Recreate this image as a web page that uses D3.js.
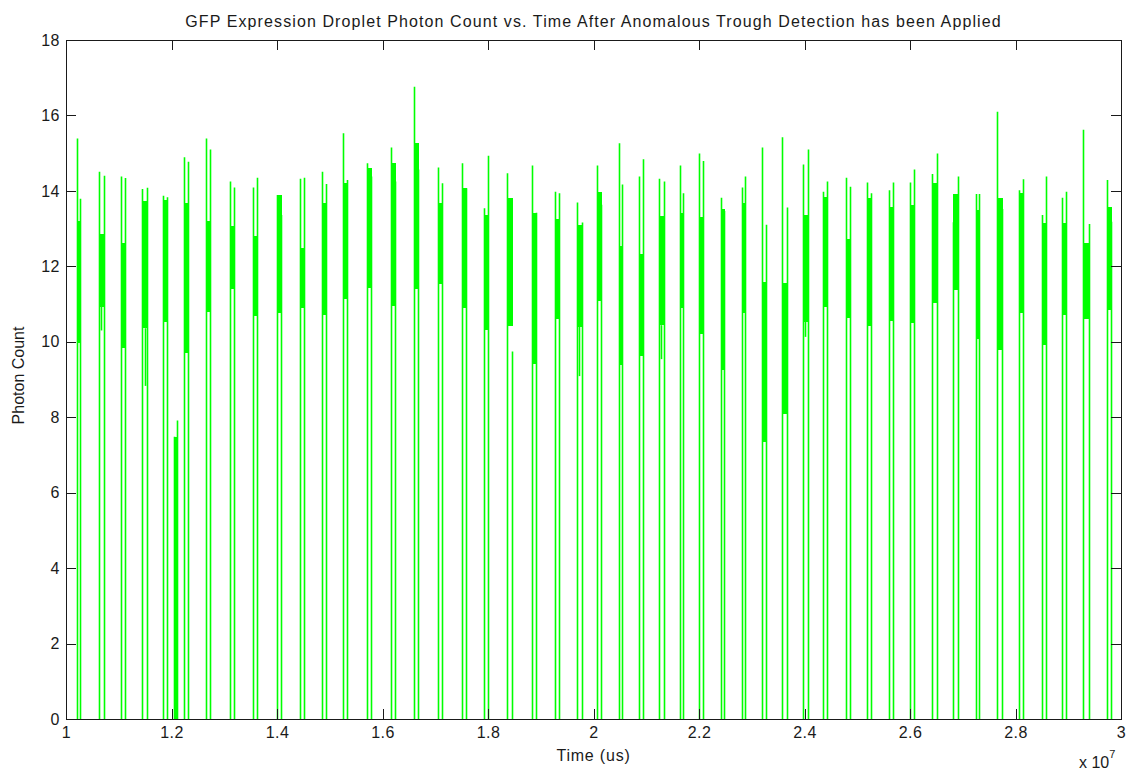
<!DOCTYPE html>
<html>
<head>
<meta charset="utf-8">
<script src="https://cdn.jsdelivr.net/npm/d3@7"></script>
<style>
  html, body { margin: 0; padding: 0; background: #fff; }
  svg text { font-family: "Liberation Sans", Arial, sans-serif; fill: #1a1a1a; }
</style>
</head>
<body>
<div id="chart"></div>
<script>
const MARGIN = { top: 40, right: 9, bottom: 52, left: 66 }
const WIDTH = 1130, HEIGHT = 771

const TITLE = 'GFP Expression Droplet Photon Count vs. Time After Anomalous Trough Detection has been Applied'
const X_LABEL = 'Time (us)'
const Y_LABEL = 'Photon Count'

// tick values / labels
const xTicks = [1e7, 1.2e7, 1.4e7, 1.6e7, 1.8e7, 2e7, 2.2e7, 2.4e7, 2.6e7, 2.8e7, 3e7]
const xTickLabels = ['1', '1.2', '1.4', '1.6', '1.8', '2', '2.2', '2.4', '2.6', '2.8', '3']
const yTicks = [0, 2, 4, 6, 8, 10, 12, 14, 16, 18]

// one entry per droplet (time in us, counts)
const dropStart = [
  1.0203e7, 1.0626e7, 1.1043e7, 1.1441e7, 1.1839e7, 1.2053e7, 1.2237e7, 1.2654e7, 1.3109e7, 1.3551e7,
  1.4006e7, 1.4436e7, 1.4859e7, 1.5257e7, 1.5700e7, 1.6155e7, 1.6597e7, 1.7052e7, 1.7501e7, 1.7924e7,
  1.8355e7, 1.8828e7, 1.9270e7, 1.9681e7, 2.0072e7, 2.0478e7, 2.0863e7, 2.1236e7, 2.1640e7, 2.2006e7,
  2.2411e7, 2.2810e7, 2.3200e7, 2.3568e7, 2.3966e7, 2.4356e7, 2.4787e7, 2.5179e7, 2.5608e7, 2.6000e7,
  2.6423e7, 2.6821e7, 2.7246e7, 2.7644e7, 2.8072e7, 2.8497e7, 2.8887e7, 2.9285e7, 2.9729e7,
]
const dropEnd = [
  1.0271e7, 1.0715e7, 1.1124e7, 1.1536e7, 1.1915e7, 1.2099e7, 1.2313e7, 1.2736e7, 1.3179e7, 1.3627e7,
  1.4076e7, 1.4512e7, 1.4935e7, 1.5327e7, 1.5776e7, 1.6231e7, 1.6679e7, 1.7128e7, 1.7577e7, 1.7994e7,
  1.8449e7, 1.8904e7, 1.9346e7, 1.9776e7, 2.0148e7, 2.0546e7, 2.0938e7, 2.1331e7, 2.1702e7, 2.2076e7,
  2.2474e7, 2.2872e7, 2.3270e7, 2.3663e7, 2.4061e7, 2.4432e7, 2.4863e7, 2.5255e7, 2.5683e7, 2.6082e7,
  2.6506e7, 2.6904e7, 2.7314e7, 2.7744e7, 2.8148e7, 2.8573e7, 2.8957e7, 2.9393e7, 2.9805e7,
]
// first sample of the droplet (rising edge)
const leftPeak = [
  15.39, 14.51, 14.38, 14.05, 13.87, 7.48, 14.89, 15.39, 14.25, 14.09,
  13.89, 14.32, 14.51, 15.53, 14.73, 15.15, 16.76, 14.62, 14.73, 13.54,
  14.47, 14.67, 13.98, 13.69, 14.67, 15.26, 14.38, 14.32, 14.67, 14.99,
  13.82, 14.09, 15.15, 15.42, 14.70, 13.98, 14.35, 14.22, 14.02, 14.22,
  14.45, 13.17, 13.92, 16.10, 14.02, 13.36, 13.82, 15.62, 14.29,
]
// last sample of the droplet (falling edge)
const rightPeak = [
  13.79, 14.40, 14.34, 14.08, 13.83, 7.91, 14.77, 15.10, 14.09, 14.35,
  13.36, 14.35, 14.18, 14.29, 14.38, 14.25, 14.57, 14.20, 14.07, 14.93,
  9.74, 13.42, 13.94, 13.16, 13.63, 14.17, 14.84, 14.25, 13.94, 14.79,
  13.47, 14.38, 13.10, 13.56, 15.10, 14.25, 14.11, 13.94, 14.22, 14.57,
  14.99, 14.38, 13.92, 13.52, 14.31, 14.38, 13.98, 13.12, 13.18,
]
// dense band of samples inside the droplet
const bandTop = [
  13.20, 12.87, 12.61, 13.72, 13.76, 7.48, 13.69, 13.20, 13.08, 12.81,
  13.89, 12.48, 13.69, 14.22, 14.60, 14.73, 15.26, 13.69, 14.07, 13.36,
  13.80, 13.42, 13.25, 13.10, 13.98, 12.55, 12.33, 13.33, 13.42, 13.30,
  13.52, 13.69, 11.59, 11.57, 13.36, 13.85, 12.72, 13.82, 13.56, 13.63,
  14.22, 13.92, 13.50, 13.82, 13.95, 13.16, 13.16, 12.61, 13.56,
]
const bandBottom = [
  9.96, 10.93, 9.83, 10.36, 10.52, 0, 9.71, 10.78, 11.40, 10.68,
  10.76, 10.90, 10.71, 11.14, 11.43, 10.95, 11.40, 11.53, 10.89, 10.30,
  10.42, 9.41, 10.60, 10.40, 11.09, 9.38, 9.61, 10.44, 10.90, 10.21,
  9.25, 10.76, 7.35, 8.09, 10.53, 10.91, 10.62, 10.42, 10.56, 10.49,
  11.02, 11.37, 10.07, 9.78, 10.76, 9.92, 10.71, 10.60, 10.83,
]
// single deeper sample below the band (null when none)
const dipValue = [
  null, 10.30, null, 8.83, null, null, null, null, null, null,
  null, null, null, null, null, null, null, null, null, null,
  null, null, null, 9.09, null, null, null, 9.54, null, null,
  null, null, null, null, 10.13, null, null, null, null, null,
  null, null, null, null, null, null, null, null, null,
]

const drops = dropStart.map((s, i) => ({
  start: s, end: dropEnd[i],
  left: leftPeak[i], right: rightPeak[i],
  top: bandTop[i], bottom: bandBottom[i], dip: dipValue[i],
}))

const GREEN = '#00ff00'
const W = WIDTH - MARGIN.left - MARGIN.right
const H = HEIGHT - MARGIN.top - MARGIN.bottom

const svg = d3.select('#chart').append('svg')
  .attr('width', WIDTH)
  .attr('height', HEIGHT)

const g = svg.append('g').attr('transform', `translate(${MARGIN.left},${MARGIN.top})`)

const x = d3.scaleLinear().domain([1e7, 3e7]).range([0, W])
const y = d3.scaleLinear().domain([0, 18]).range([H, 0])
const px = v => Math.round(x(v)) + 0.5

// ── droplets ─────────────────────────────────────────────────
const gDrops = g.append('g').attr('class', 'drops')

gDrops.selectAll('rect.band').data(drops).enter().append('rect')
  .attr('class', 'band')
  .attr('x', d => Math.round(x(d.start)))
  .attr('width', d => Math.round(x(d.end)) - Math.round(x(d.start)) + 1)
  .attr('y', d => y(d.top))
  .attr('height', d => y(d.bottom) - y(d.top))
  .attr('fill', GREEN)
  .attr('shape-rendering', 'crispEdges')

// thin edges: a touch wider than 1px so they keep their colour
const edge = sel => sel.attr('stroke', GREEN).attr('stroke-width', 1.6)

edge(gDrops.selectAll('line.rise').data(drops).enter().append('line')
  .attr('class', 'rise')
  .attr('x1', d => px(d.start)).attr('x2', d => px(d.start))
  .attr('y1', y(0)).attr('y2', d => y(d.left)))

edge(gDrops.selectAll('line.fall').data(drops).enter().append('line')
  .attr('class', 'fall')
  .attr('x1', d => px(d.end)).attr('x2', d => px(d.end))
  .attr('y1', y(0)).attr('y2', d => y(d.right)))

edge(gDrops.selectAll('line.dip').data(drops.filter(d => d.dip != null)).enter().append('line')
  .attr('class', 'dip')
  .attr('x1', d => px((d.start + d.end) / 2)).attr('x2', d => px((d.start + d.end) / 2))
  .attr('y1', d => y(d.dip)).attr('y2', d => y(d.bottom)))

// ── axes (MATLAB style box, ticks inward) ─────────────────────
const FONT = '16px'
const xFmt = d => xTickLabels[xTicks.indexOf(d)]

const gX = g.append('g').attr('transform', `translate(0,${H})`)
  .call(d3.axisBottom(x).tickValues(xTicks).tickFormat(xFmt).tickSizeInner(-10).tickSizeOuter(0).tickPadding(8))
gX.selectAll('text').style('font-size', FONT).style('letter-spacing', '0.5px')

g.append('g')
  .call(d3.axisTop(x).tickValues(xTicks).tickFormat('').tickSizeInner(-10).tickSizeOuter(0))

const gY = g.append('g')
  .call(d3.axisLeft(y).tickValues(yTicks).tickSizeInner(-10).tickSizeOuter(0).tickPadding(6))
gY.selectAll('text').style('font-size', FONT).style('letter-spacing', '0.5px')

g.append('g').attr('transform', `translate(${W},0)`)
  .call(d3.axisRight(y).tickValues(yTicks).tickFormat('').tickSizeInner(-10).tickSizeOuter(0))

g.selectAll('.domain').remove()
g.selectAll('.tick line').attr('stroke', '#1a1a1a').attr('shape-rendering', 'crispEdges')

g.append('rect')
  .attr('x', 0.5).attr('y', 0.5)
  .attr('width', W).attr('height', H)
  .attr('fill', 'none').attr('stroke', '#1a1a1a')
  .attr('shape-rendering', 'crispEdges')

// ── labels ───────────────────────────────────────────────────
svg.append('text')
  .attr('x', MARGIN.left + W / 2).attr('y', 27)
  .attr('text-anchor', 'middle').style('font-size', FONT).style('letter-spacing', '1.1px')
  .text(TITLE)

svg.append('text')
  .attr('x', MARGIN.left + W / 2).attr('y', 761)
  .attr('text-anchor', 'middle').style('font-size', FONT).style('letter-spacing', '0.8px')
  .text(X_LABEL)

svg.append('text')
  .attr('transform', `translate(24,${MARGIN.top + H / 2 - 4}) rotate(-90)`)
  .attr('text-anchor', 'middle').style('font-size', FONT)
  .text(Y_LABEL)

const exp = svg.append('text')
  .attr('x', 1079).attr('y', 768).style('font-size', FONT)
exp.append('tspan').text('x 10')
exp.append('tspan').attr('dy', -10).style('font-size', '11px').text('7')
</script>
</body>
</html>
